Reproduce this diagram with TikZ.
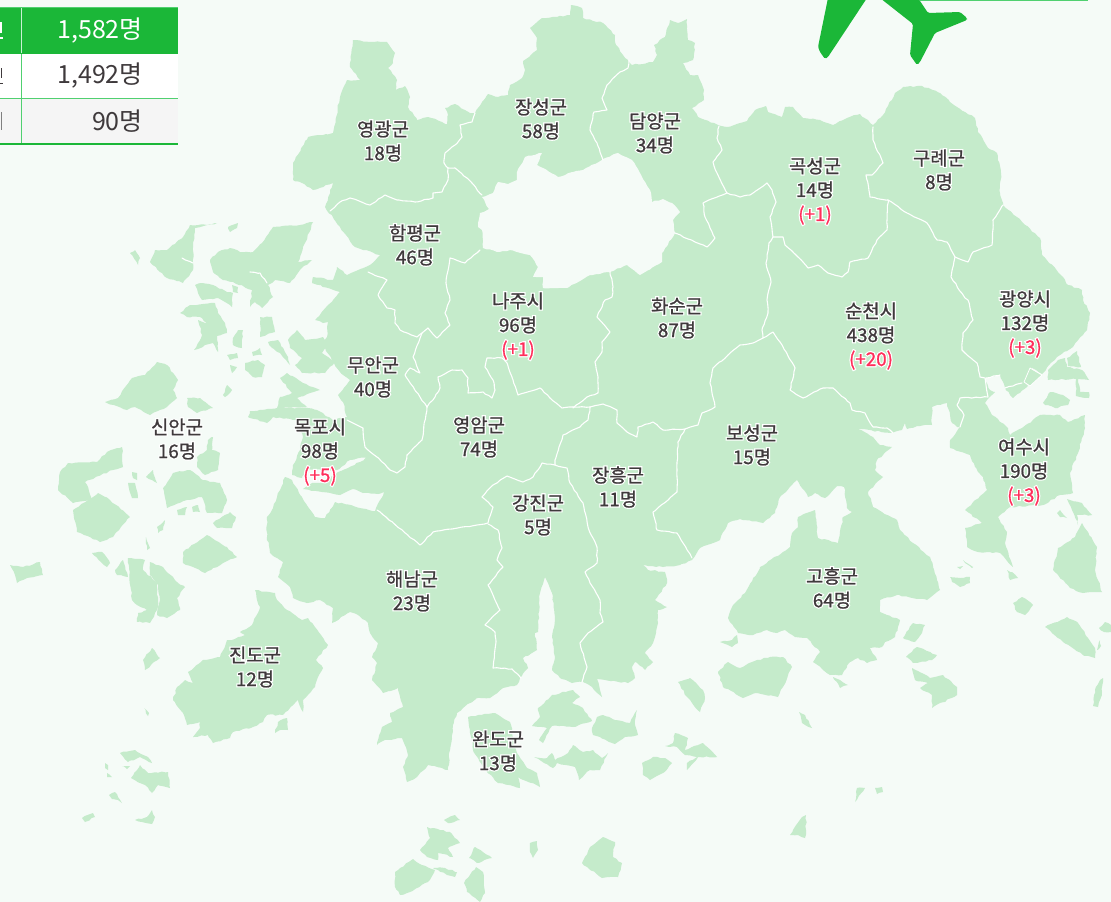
\documentclass[tikz,border=0pt]{standalone}
\usepackage{fontspec}
\usetikzlibrary{decorations.pathmorphing}
\setmainfont{Noto Sans CJK KR}
\newfontfamily\halofont[FakeBold=14]{Noto Sans CJK KR}
\newfontfamily\notefont[FakeBold=1]{Noto Sans CJK KR}
\definecolor{seabg}{HTML}{F5FBF7}
\definecolor{landc}{HTML}{C5EBCB}
\definecolor{inkc}{HTML}{3F3A3C}
\definecolor{alertred}{HTML}{FF2D5A}
\definecolor{brandg}{HTML}{1BB738}
\definecolor{ruleg}{HTML}{50D070}
\colorlet{alertcur}{alertred}
\newcommand\up[1]{\textcolor{alertcur}{#1}}
\tikzset{
 landf/.style={fill=landc,draw=none,decorate,decoration={random steps,segment length=3.5pt,amplitude=0.7pt}},
 holef/.style={fill=seabg,draw=none,decorate,decoration={random steps,segment length=3.5pt,amplitude=0.6pt}},
 border/.style={draw=white,line width=1.1pt,line join=round,line cap=round,decorate,decoration={random steps,segment length=4pt,amplitude=0.5pt}},
 halotext/.style={align=center,inner sep=0pt,text=white,font={\colorlet{alertcur}{white}\halofont\fontsize{18.8}{24}\selectfont}},
 labeltext/.style={align=center,inner sep=0pt,text=inkc,font={\notefont\fontsize{18.8}{24}\selectfont}},
 tabletext/.style={anchor=east,inner sep=0pt,font=\fontsize{25}{28}\selectfont}
}
\newcommand\mapnote[4]{\node[halotext] at (#2,#3) {#4};\node[labeltext] (#1) at (#2,#3) {#4};}
\newcommand\isle[1]{\fill[landf] plot coordinates {#1} -- cycle;}
\newcommand\bline[1]{\draw[border] plot coordinates {#1};}
\begin{document}
\begin{tikzpicture}[x=1pt,y=-1pt]
\useasboundingbox (0,0) rectangle (1111,902);
\fill[seabg] (0,0) rectangle (1111,902);
% mainland
\isle{(353,40)(370,42)(387,42)(395,53)(393,63)(388,68)(397,80)(396,90)(405,86)(410,97)(408,107)(417,120)(428,117)(442,122)(447,124)(448,115)(445,108)(455,104)(470,113)(475,113)(488,94)(498,97)(508,95)(510,85)(522,78)(525,70)(523,61)(537,50)(537,38)(530,28)(542,18)(557,17)(570,15)(571,5)(582,8)(583,18)(603,23)(615,35)(615,42)(623,55)(628,60)(632,65)(653,62)(657,55)(654,45)(665,37)(670,20)(678,23)(687,19)(688,40)(695,43)(693,60)(683,63)(690,75)(698,75)(704,90)(704,100)(692,108)(698,117)(718,125)(727,127)(740,123)(747,121)(755,110)(766,106)(768,112)(782,117)(785,107)(793,107)(803,118)(820,120)(833,125)(847,118)(860,114)(873,125)(883,115)(895,93)(903,87)(922,86)(940,93)(957,107)(975,118)(978,132)(988,148)(997,153)(1001,173)(1000,193)(1003,205)(1017,217)(1040,238)(1042,255)(1063,277)(1068,285)(1082,290)(1083,300)(1090,313)(1087,330)(1073,347)(1057,357)(1042,374)(1032,368)(1025,383)(1028,386)(1013,398)(1005,388)(1000,375)(985,378)(990,390)(995,392)(985,403)(992,415)(1008,428)(1010,435)(1022,428)(1040,415)(1060,415)(1068,422)(1085,415)(1085,428)(1078,453)(1070,473)(1073,493)(1060,495)(1043,505)(1010,507)(998,517)(1007,532)(1005,543)(1013,567)(1000,553)(978,552)(967,547)(965,528)(982,523)(965,510)(987,490)(983,477)(975,467)(970,455)(950,448)(950,440)(960,427)(957,427)(952,423)(947,403)(932,407)(932,425)(920,426)(907,429)(905,423)(902,430)(892,433)(858,429)(873,437)(880,445)(892,447)(877,460)(875,470)(883,477)(868,492)(873,507)(897,520)(900,530)(913,543)(930,557)(937,580)(940,590)(927,600)(897,595)(880,600)(880,612)(900,620)(895,637)(885,642)(882,647)(870,648)(877,660)(867,663)(858,658)(850,662)(842,675)(830,675)(813,662)(820,652)(807,638)(795,637)(785,630)(777,633)(767,630)(753,635)(738,633)(728,618)(733,605)(745,593)(760,567)(783,552)(790,547)(792,533)(798,527)(798,517)(815,510)(818,538)(838,543)(843,517)(852,512)(847,508)(844,487)(837,486)(825,498)(815,493)(808,497)(797,480)(780,497)(775,513)(763,523)(740,519)(728,523)(720,540)(700,548)(692,560)(680,565)(663,567)(643,565)(648,570)(665,572)(667,583)(655,600)(667,607)(658,610)(658,623)(653,643)(645,653)(653,662)(645,670)(635,662)(632,667)(635,678)(628,683)(597,679)(602,697)(592,687)(583,682)(572,683)(560,678)(552,670)(555,657)(552,637)(555,617)(552,593)(545,577)(540,593)(538,632)(535,633)(537,650)(523,658)(528,668)(520,678)(517,685)(503,688)(490,698)(477,698)(463,708)(457,713)(453,725)(450,750)(448,770)(428,765)(417,777)(407,782)(403,767)(408,755)(402,738)(385,740)(377,745)(382,727)(392,722)(390,713)(403,707)(398,688)(383,693)(372,680)(377,663)(372,657)(378,643)(370,633)(368,623)(358,615)(350,612)(332,623)(333,608)(320,600)(307,603)(293,598)(290,587)(278,577)(283,562)(270,553)(267,537)(267,517)(273,508)(277,497)(285,477)(292,480)(302,497)(315,517)(325,518)(335,502)(375,511)(384,492)(378,494)(363,493)(353,489)(340,495)(322,492)(303,489)(312,483)(323,482)(338,472)(360,462)(368,457)(350,460)(337,470)(307,470)(302,478)(292,475)(293,465)(300,450)(303,437)(297,420)(273,417)(267,423)(248,417)(250,411)(277,408)(308,408)(317,410)(333,420)(347,417)(343,402)(338,395)(350,380)(340,372)(332,360)(322,343)(327,337)(328,322)(323,323)(315,320)(340,292)(312,283)(313,277)(333,280)(337,267)(347,275)(370,265)(380,255)(355,247)(340,227)(325,207)(333,183)(313,190)(302,183)(293,180)(293,163)(308,137)(333,133)(340,97)(347,80)(360,80)(350,67)}
% Gwangju hole
\fill[holef] plot coordinates {(603,159)(618,153)(632,160)(642,177)(650,190)(652,202)(663,199)(672,203)(680,212)(673,220)(675,233)(662,253)(662,262)(640,275)(627,265)(610,272)(590,275)(567,288)(543,288)(543,277)(533,277)(538,267)(530,255)(510,250)(497,252)(483,248)(482,230)(478,227)(480,213)(489,209)(482,197)(493,193)(498,182)(508,184)(517,180)(517,172)(525,157)(542,153)(537,165)(558,177)(573,172)(583,170)} -- cycle;
% islands
\isle{(150,262)(155,250)(167,250)(183,237)(190,225)(207,225)(217,223)(195,228)(193,247)(193,270)(183,283)(167,278)(160,272)}
\isle{(130,253)(135,250)(140,258)(138,265)}
\isle{(228,227)(238,223)(237,228)(230,232)}
\isle{(210,260)(218,252)(230,248)(240,252)(253,252)(262,243)(273,227)(300,225)(313,222)(305,243)(298,262)(312,260)(300,270)(290,283)(275,280)(268,285)(273,297)(262,308)(255,302)(250,307)(252,290)(233,282)(223,280)(213,272)}
\isle{(260,317)(272,317)(275,332)(260,337)}
\isle{(288,340)(297,330)(305,340)(323,337)(328,345)(322,353)(335,362)(325,373)(302,373)(295,365)(302,358)(290,348)}
\isle{(268,342)(278,340)(288,357)(290,365)(280,353)(272,348)}
\isle{(252,352)(260,348)(262,355)(253,356)}
\isle{(245,363)(258,360)(265,365)(262,377)(253,377)(245,370)}
\isle{(280,378)(287,373)(303,383)(320,390)(310,393)(297,398)(307,407)(277,408)(280,397)(292,393)}
\isle{(195,285)(202,283)(213,285)(227,292)(233,293)(232,307)(225,302)(217,298)(202,300)(198,293)}
\isle{(180,313)(190,305)(215,303)(218,313)(225,323)(227,333)(217,336)(218,352)(213,343)(205,345)(198,349)(194,350)(202,335)(198,320)(207,323)(200,317)(187,317)}
\isle{(232,285)(238,287)(238,293)(233,292)}
\isle{(233,338)(238,330)(243,330)(242,348)(233,345)}
\isle{(227,355)(237,353)(238,358)(230,360)}
\isle{(230,365)(237,367)(232,373)}
\isle{(223,395)(227,385)(232,390)(225,397)}
\isle{(105,402)(118,398)(132,378)(145,375)(157,362)(167,365)(178,380)(173,390)(177,398)(167,407)(150,415)(135,407)(127,410)}
\isle{(187,398)(200,398)(213,408)(197,413)(188,407)}
\isle{(197,457)(207,450)(208,440)(213,437)(212,450)(220,453)(218,470)(205,475)(197,467)}
\isle{(60,472)(68,463)(97,462)(107,452)(122,447)(123,467)(113,470)(85,482)(93,500)(73,503)(58,490)}
\isle{(73,510)(98,493)(110,500)(130,517)(113,537)(100,542)(77,532)}
\isle{(163,488)(173,473)(190,470)(203,480)(220,483)(227,500)(222,513)(207,513)(202,497)(187,500)(167,508)}
\isle{(177,510)(187,507)(185,515)(178,515)}
\isle{(192,507)(198,505)(200,512)(193,512)}
\isle{(213,523)(230,512)(236,517)(232,528)(217,528)}
\isle{(157,527)(165,520)(163,530)(158,533)}
\isle{(128,483)(135,483)(138,498)(132,498)}
\isle{(132,472)(137,473)(137,480)(133,478)}
\isle{(146,477)(153,470)(157,483)(152,480)}
\isle{(183,552)(207,535)(227,547)(237,557)(223,563)(205,573)(193,567)(183,563)}
\isle{(146,537)(150,548)(147,550)}
\isle{(10,565)(23,567)(40,562)(43,575)(27,578)(17,583)(15,575)}
\isle{(92,553)(102,552)(110,563)(107,567)}
\isle{(115,570)(123,560)(128,577)(117,575)}
\isle{(128,558)(145,560)(143,570)(157,583)(158,600)(157,610)(150,623)(137,622)(138,613)(147,610)(137,605)(132,600)}
\isle{(150,562)(163,567)(177,582)(185,587)(177,598)(180,610)(167,618)(157,615)(160,600)(158,585)(150,575)}
\isle{(143,660)(152,648)(160,658)(145,670)}
\isle{(144,708)(149,713)(148,716)}
\isle{(120,753)(135,750)(148,757)(152,763)(140,757)(128,762)}
\isle{(131,778)(140,765)(148,773)(168,772)(170,788)(158,785)(152,793)(145,785)}
\isle{(105,763)(108,765)(108,770)(105,768)}
\isle{(107,773)(112,777)(107,777)}
\isle{(109,795)(115,792)(118,797)(122,803)(118,800)(112,799)}
\isle{(82,818)(93,813)(95,817)(85,822)}
\isle{(135,820)(147,817)(152,810)(155,817)(152,824)(142,822)}
\isle{(122,766)(130,766)(127,769)}
\isle{(257,600)(255,590)(275,593)(277,600)(287,610)(302,620)(308,618)(315,627)(328,645)(316,660)(323,668)(318,677)(315,687)(303,700)(303,712)(298,700)(283,715)(267,715)(263,722)(253,727)(233,732)(230,738)(213,743)(208,735)(193,737)(200,728)(200,722)(187,725)(183,713)(173,700)(177,687)(185,680)(193,683)(188,672)(203,660)(220,657)(227,640)(232,640)(245,635)(240,632)(252,625)(260,607)}
\isle{(275,733)(278,722)(287,718)(288,730)(280,730)}
\isle{(468,717)(495,713)(510,722)(517,753)(527,768)(537,773)(540,787)(518,777)(520,788)(498,783)(483,767)(473,750)(470,730)}
\isle{(532,726)(540,717)(538,708)(552,695)(573,690)(580,697)(572,703)(583,708)(592,721)(573,727)(552,726)(543,743)(539,740)(547,728)}
\isle{(534,757)(547,758)(552,753)(555,760)(568,753)(573,745)(583,752)(593,750)(602,758)(608,753)(600,770)(590,770)(579,780)(575,767)(557,763)(553,768)}
\isle{(592,728)(597,717)(603,715)(615,720)(630,723)(637,710)(635,725)(638,735)(625,737)(615,744)(600,737)(593,735)}
\isle{(642,763)(653,757)(665,758)(672,763)(663,773)(650,780)(643,775)}
\isle{(678,682)(690,678)(703,690)(705,698)(700,712)(692,703)(687,697)}
\isle{(665,746)(673,743)(675,733)(688,738)(685,750)(703,743)(717,757)(698,757)(687,770)(687,763)(697,757)(685,755)(677,747)}
\isle{(718,672)(728,662)(740,668)(757,660)(770,657)(783,657)(792,667)(783,687)(778,697)(757,693)(743,698)(723,687)}
\isle{(720,642)(732,640)(737,635)(738,643)(732,647)(728,645)}
\isle{(444,820)(455,815)(460,820)(448,823)}
\isle{(420,850)(430,838)(427,827)(440,830)(450,832)(460,843)(448,848)(453,857)(438,853)(438,860)(427,857)}
\isle{(469,858)(475,847)(492,858)(477,863)}
\isle{(464,883)(476,867)(483,872)(485,893)(480,902)(467,892)}
\isle{(395,872)(413,859)(422,865)(435,870)(428,882)(410,892)(400,895)(395,887)}
\isle{(433,868)(445,868)(457,872)(455,877)(447,875)(438,870)}
\isle{(530,843)(537,841)(538,850)(533,858)(530,852)}
\isle{(582,863)(590,847)(603,837)(615,842)(613,857)(622,863)(618,877)(602,878)(587,867)}
\isle{(903,638)(913,623)(925,625)(922,633)(915,642)}
\isle{(906,657)(917,647)(937,655)(932,660)(913,663)}
\isle{(912,668)(930,678)(943,675)(957,687)(957,695)(932,708)(932,695)(920,688)(928,683)(915,680)}
\isle{(833,677)(840,680)(848,685)(840,688)}
\isle{(799,712)(805,715)(812,728)(802,723)}
\isle{(857,788)(865,788)(855,802)}
\isle{(875,788)(882,787)(883,792)(877,794)}
\isle{(790,835)(802,817)(806,815)(806,830)(805,838)(798,835)}
\isle{(1007,570)(1012,572)(1018,578)(1010,580)}
\isle{(1013,603)(1022,597)(1033,605)(1025,615)(1017,612)}
\isle{(1045,627)(1067,617)(1078,623)(1088,638)(1095,648)(1095,658)(1083,655)(1063,642)}
\isle{(1053,570)(1058,548)(1075,537)(1082,523)(1097,547)(1095,570)(1102,592)(1083,593)(1070,588)}
\isle{(1067,499)(1082,503)(1092,515)(1077,515)(1078,525)(1072,510)}
\isle{(1057,513)(1060,510)(1067,518)(1060,517)}
\isle{(950,577)(960,578)(970,577)(970,583)(960,587)(952,582)}
\isle{(963,560)(973,567)(972,568)(965,563)}
\isle{(957,567)(963,566)(960,569)}
\isle{(1043,403)(1050,392)(1063,395)(1070,400)(1068,405)(1055,408)(1045,405)}
\isle{(1048,380)(1048,370)(1058,360)(1065,358)(1067,367)(1082,370)(1089,380)(1078,379)(1080,392)(1089,392)(1089,398)(1076,396)(1076,379)}
\isle{(1067,358)(1077,351)(1081,367)(1068,366)}
\isle{(1099,628)(1105,622)(1111,625)(1111,632)(1104,632)}
\isle{(1097,650)(1100,640)(1101,646)}
\isle{(1095,690)(1100,680)(1103,678)(1102,692)(1098,707)(1093,706)}
% district borders
\bline{(475,113)(472,122)(460,125)(462,137)(455,145)(445,153)(444,163)(448,168)(455,168)(467,178)(482,195)}
\bline{(448,168)(448,180)(442,192)(433,193)(433,198)(415,202)(397,200)(385,195)(370,205)(350,198)(340,202)(330,211)}
\bline{(603,160)(597,143)(590,130)(594,112)(607,110)(602,98)(607,85)(620,72)(628,68)(629,60)}
\bline{(719,126)(717,138)(722,150)(713,162)(717,173)(727,193)(740,197)(750,195)(767,183)(772,190)(776,202)(770,217)(773,237)}
\bline{(727,193)(703,203)(705,217)(715,238)(707,247)(695,242)(675,233)}
\bline{(773,237)(783,237)(785,245)(798,257)(808,268)(818,265)(828,273)(842,277)(848,272)(850,262)(868,258)(877,240)(887,230)(888,200)}
\bline{(873,127)(873,140)(883,163)(872,175)(866,175)(870,197)(888,200)(907,213)(927,223)(937,240)(947,242)(955,257)(968,262)(973,252)(992,245)(993,220)(1003,205)}
\bline{(955,257)(951,277)(965,298)(968,300)(973,320)(963,333)(962,350)(977,363)(980,377)(985,378)(988,397)(960,398)(957,405)(964,415)(960,427)}
\bline{(773,237)(769,243)(766,263)(771,282)(767,300)(768,313)(762,330)(763,338)(773,332)(780,342)(795,368)(790,390)(803,398)(823,388)(833,388)(850,403)(852,410)(865,413)(873,427)(887,428)(893,433)}
\bline{(763,338)(753,343)(740,345)(728,355)(713,368)(710,383)(715,407)(702,413)(698,425)(685,429)(663,430)(653,422)(638,427)(637,437)(627,432)(617,423)(617,410)(603,404)(590,407)(573,407)}
\bline{(685,429)(678,442)(677,470)(677,492)(653,512)(657,530)(677,533)(692,558)}
\bline{(573,408)(587,397)(598,393)(598,377)(595,362)(602,352)(602,342)(610,332)(597,317)(605,300)(612,297)(613,287)(610,272)}
\bline{(573,407)(562,408)(550,398)(540,388)(518,395)(513,380)(507,363)(502,358)(487,358)(485,367)(493,380)(495,390)(492,398)(483,392)(468,393)(468,378)(462,370)(452,370)(438,377)(440,388)(435,397)(427,407)}
\bline{(427,407)(422,440)(407,455)(405,467)(397,473)(390,470)(377,457)(365,447)(363,428)(347,420)}
\bline{(427,407)(420,397)(405,375)(410,368)(420,373)(413,357)(422,333)(428,328)(437,338)(450,325)(445,313)(450,300)(446,283)(450,258)(465,263)(480,250)}
\bline{(368,272)(387,280)(378,295)(387,308)(395,310)(395,323)(400,330)(417,337)(422,333)}
\bline{(590,407)(588,420)(580,427)(563,435)(555,460)(555,465)(567,468)(570,483)(583,503)(588,527)(597,547)(597,563)(585,572)(590,583)(600,600)(600,613)(603,622)(588,633)(580,643)(587,667)(582,682)}
\bline{(555,465)(542,463)(533,477)(523,482)(507,476)(493,485)(482,497)(493,507)(488,523)(477,525)(452,529)(433,532)(420,545)(377,510)}
\bline{(488,524)(498,530)(502,548)(497,560)(503,567)(488,585)(495,600)(500,610)(485,625)(495,632)(496,642)(493,668)(512,669)(521,678)}
\bline{(986,378)(1000,375)}
\bline{(1005,388)(1022,383)}
\bline{(250,272)(260,273)(267,283)}
\bline{(182,258)(193,263)}
\draw[draw=white,line width=0.8pt,line join=round,fill=landc] plot coordinates {(1024,382)(1030,368)(1042,375)(1030,386)} -- cycle;
% labels
\mapnote{yg}{383}{141}{영광군\\18명}
\mapnote{js}{541}{119}{장성군\\58명}
\mapnote{dy}{655}{133}{담양군\\34명}
\mapnote{gs}{815}{191}{곡성군\\14명\\\up{(+1)}}
\mapnote{gr}{939}{170}{구례군\\8명}
\mapnote{hp}{415}{245}{함평군\\46명}
\mapnote{nj}{518}{326}{나주시\\96명\\\up{(+1)}}
\mapnote{hs}{677}{318}{화순군\\87명}
\mapnote{sc}{871}{336}{순천시\\438명\\\up{(+20)}}
\mapnote{gy}{1025}{324}{광양시\\132명\\\up{(+3)}}
\mapnote{ma}{373}{377}{무안군\\40명}
\mapnote{sa}{177}{439}{신안군\\16명}
\mapnote{mp}{320}{452}{목포시\\98명\\\up{(+5)}}
\mapnote{ya}{479}{437}{영암군\\74명}
\mapnote{bs}{752}{445}{보성군\\15명}
\mapnote{ys}{1024}{472}{여수시\\190명\\\up{(+3)}}
\mapnote{jh}{618}{487}{장흥군\\11명}
\mapnote{gj}{538}{515}{강진군\\5명}
\mapnote{hn}{412}{591}{해남군\\23명}
\mapnote{gh}{832}{588}{고흥군\\64명}
\mapnote{jd}{255}{667}{진도군\\12명}
\mapnote{wd}{498}{751}{완도군\\13명}
% table
\fill[brandg] (0,8) rectangle (178,53.5);
\fill[white] (0,53.5) rectangle (178,98);
\fill[black!4] (0,99) rectangle (178,143);
\draw[ruleg,line width=1pt] (0,7.5) -- (178,7.5);
\draw[ruleg,line width=1pt] (0,98.5) -- (178,98.5);
\draw[brandg,line width=1.5pt] (0,144) -- (178,144);
\draw[white!70!ruleg,line width=1pt] (21.5,8) -- (21.5,53);
\draw[ruleg,line width=1pt] (21.5,54) -- (21.5,143);
\draw[white,line width=1.2pt] (1,22) -- (1,33) (0,38) -- (3,38);
\draw[inkc,line width=1pt] (1,68) -- (1,78) (0,83) -- (3,83);
\draw[gray,line width=1pt] (1,112) -- (1,130);
\node[tabletext,text=white] (t1) at (143,31) {1,582명};
\node[tabletext,text=inkc] (t2) at (143,76) {1,492명};
\node[tabletext,text=inkc] (t3) at (143,121) {90명};
% plane
\fill[brandg,rounded corners=1.5pt] (828,-2) -- (818,47) -- (820,52) -- (825,59) -- (828,57) -- (867,-2) -- cycle;
\fill[brandg,rounded corners=1.5pt] (880,-2) -- (913,24) -- (910,55) -- (917,65) -- (920,62) -- (935,33) -- (967,20) -- (967,18) -- (960,12) -- (928,13) -- (918,-2) -- cycle;
\draw[ruleg,line width=1.2pt] (920,0.5) -- (1088,0.5);
\end{tikzpicture}
\end{document}
